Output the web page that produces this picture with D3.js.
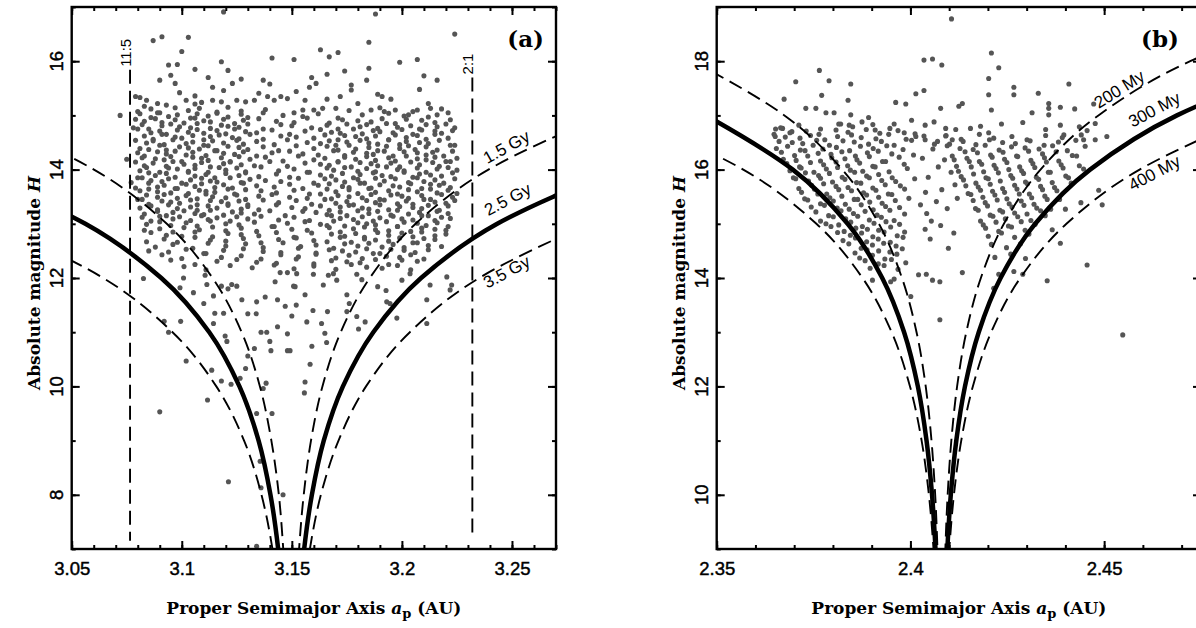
<!DOCTYPE html>
<html><head><meta charset="utf-8">
<script src="https://cdn.jsdelivr.net/npm/d3@7"></script>
<style>body{margin:0;background:#fff}svg{display:block}</style>
</head><body>
<svg id="chart" width="1196" height="628"></svg>
<script>
// ---------------- DATA ----------------
const xTicksA=[3.05,3.1,3.15,3.2,3.25], xTickLabelsA=["3.05","3.1","3.15","3.2","3.25"];
const yTicksA=[8,10,12,14,16];
const xTicksB=[2.35,2.4,2.45], xTickLabelsB=["2.35","2.4","2.45"];
const yTicksB=[10,12,14,16,18];

// Panel (a) asteroids [a_p, H]
const pointsA=[
[3.119,16.91],[3.188,16.87],[3.224,16.5],[3.087,16.38],[3.091,16.45],[3.103,16.44],[3.185,16.35],[3.100,16.18],[3.163,16.21],[3.167,16.08],[3.171,16.16],[3.141,16.06],[3.151,16.03],[3.118,15.99],[3.199,15.98],[3.207,16.03],[3.106,15.85],[3.094,15.93],[3.098,15.94],[3.095,15.74],[3.090,15.65],[3.097,15.59],[3.112,15.70],[3.121,15.83],[3.127,15.67],[3.123,15.59],[3.114,15.52],[3.119,15.46],[3.137,15.65],[3.140,15.58],[3.174,15.82],[3.185,15.87],[3.166,15.76],[3.159,15.70],[3.184,15.65],[3.210,15.73],[3.216,15.65],[3.152,15.44],[3.158,15.52],[3.161,15.59],[3.177,15.56],[3.177,15.47],[3.172,15.35],[3.191,15.35],[3.195,15.30],[3.189,15.39],[3.180,15.22],[3.208,15.48],[3.213,15.13],[3.216,15.01],[3.212,15.22],[3.166,15.30],[3.156,15.28],[3.160,15.10],[3.155,15.10],[3.170,15.13],[3.186,15.10],[3.192,15.07],[3.197,15.10],[3.203,15.01],[3.207,15.10],[3.099,15.42],[3.102,15.28],[3.106,15.36],[3.079,15.35],[3.081,15.33],[3.083,15.17],[3.072,15.00],[3.078,14.77],[3.075,14.19],[3.077,13.76],[3.114,15.28],[3.118,15.25],[3.125,15.28],[3.129,15.25],[3.133,15.28],[3.135,15.41],[3.139,15.35],[3.142,15.28],[3.145,15.35],[3.148,15.31],[3.084,15.28],[3.089,15.22],[3.093,15.19],[3.106,15.21],[3.109,15.24],
[3.080,15.07],[3.086,15.12],[3.090,15.05],[3.097,15.14],[3.103,15.09],[3.108,15.13],[3.116,15.06],[3.121,15.15],[3.127,15.08],[3.138,15.11],[3.151,15.05],[3.164,15.13],[3.176,15.09],[3.190,15.14],[3.205,15.07],[3.218,15.12],
[3.081,15.03],[3.086,14.96],[3.089,15.05],[3.094,14.98],[3.098,15.01],[3.104,14.95],[3.107,15.03],[3.112,14.99],[3.116,15.04],[3.121,14.97],[3.127,15.02],[3.130,14.96],[3.137,15.05],[3.146,15.0],[3.155,14.98],[3.162,15.03],[3.171,14.95],[3.182,15.01],[3.194,15.04],[3.201,14.99],[3.212,14.97],[3.221,15.05],
[3.079,14.93],[3.083,14.89],[3.088,14.94],[3.091,14.87],[3.097,14.92],[3.101,14.86],[3.106,14.95],[3.110,14.9],[3.113,14.88],[3.119,14.93],[3.124,14.85],[3.128,14.91],[3.135,14.94],[3.143,14.89],[3.151,14.87],[3.157,14.95],[3.167,14.86],[3.173,14.92],[3.180,14.9],[3.186,14.88],[3.191,14.94],[3.197,14.85],[3.202,14.93],[3.209,14.91],[3.215,14.87],[3.222,14.92],
[3.082,14.83],[3.085,14.75],[3.091,14.81],[3.095,14.84],[3.099,14.79],[3.104,14.77],[3.107,14.85],[3.113,14.76],[3.118,14.82],[3.121,14.8],[3.126,14.78],[3.130,14.84],[3.137,14.75],[3.145,14.83],[3.150,14.81],[3.159,14.77],[3.166,14.82],[3.171,14.75],[3.175,14.84],[3.181,14.79],[3.184,14.83],[3.189,14.76],[3.193,14.85],[3.198,14.78],[3.204,14.81],[3.208,14.75],[3.211,14.83],[3.216,14.79],[3.220,14.84],[3.224,14.77],
[3.080,14.75],[3.086,14.68],[3.090,14.71],[3.093,14.65],[3.098,14.73],[3.103,14.69],[3.107,14.74],[3.110,14.67],[3.116,14.72],[3.120,14.66],[3.124,14.75],[3.129,14.7],[3.134,14.68],[3.141,14.73],[3.149,14.65],[3.156,14.71],[3.163,14.74],[3.168,14.69],[3.172,14.67],[3.178,14.75],[3.182,14.66],[3.187,14.72],[3.190,14.7],[3.196,14.68],[3.200,14.74],[3.205,14.65],[3.209,14.73],[3.215,14.71],[3.218,14.67],[3.223,14.72],
[3.083,14.62],[3.087,14.56],[3.091,14.65],[3.097,14.6],[3.100,14.58],[3.105,14.63],[3.110,14.55],[3.113,14.61],[3.117,14.64],[3.123,14.59],[3.126,14.57],[3.131,14.65],[3.137,14.56],[3.145,14.62],[3.152,14.6],[3.160,14.58],[3.165,14.64],[3.171,14.55],[3.174,14.63],[3.179,14.61],[3.184,14.57],[3.188,14.62],[3.194,14.55],[3.197,14.64],[3.202,14.59],[3.207,14.63],[3.211,14.56],[3.215,14.65],[3.221,14.58],
[3.079,14.54],[3.084,14.49],[3.087,14.53],[3.092,14.46],[3.096,14.55],[3.102,14.48],[3.105,14.51],[3.110,14.45],[3.114,14.53],[3.119,14.49],[3.125,14.54],[3.128,14.47],[3.134,14.52],[3.142,14.46],[3.148,14.55],[3.157,14.5],[3.163,14.48],[3.167,14.53],[3.170,14.45],[3.175,14.51],[3.181,14.54],[3.185,14.49],[3.189,14.47],[3.194,14.55],[3.199,14.46],[3.202,14.52],[3.208,14.5],[3.212,14.48],[3.217,14.54],[3.224,14.45],
[3.081,14.39],[3.085,14.37],[3.090,14.45],[3.093,14.36],[3.099,14.42],[3.103,14.4],[3.108,14.38],[3.112,14.44],[3.115,14.35],[3.121,14.43],[3.126,14.41],[3.130,14.37],[3.137,14.42],[3.144,14.35],[3.152,14.44],[3.160,14.39],[3.166,14.43],[3.171,14.36],[3.176,14.45],[3.179,14.38],[3.185,14.41],[3.189,14.35],[3.193,14.43],[3.199,14.39],[3.203,14.44],[3.206,14.37],[3.211,14.42],[3.216,14.36],[3.222,14.45],
[3.080,14.31],[3.083,14.25],[3.089,14.33],[3.093,14.29],[3.097,14.34],[3.102,14.27],[3.105,14.32],[3.111,14.26],[3.116,14.35],[3.119,14.3],[3.124,14.28],[3.128,14.33],[3.134,14.25],[3.141,14.31],[3.149,14.34],[3.155,14.29],[3.162,14.27],[3.169,14.35],[3.174,14.26],[3.178,14.32],[3.184,14.3],[3.187,14.28],[3.192,14.34],[3.196,14.25],[3.201,14.33],[3.207,14.31],[3.211,14.27],[3.214,14.32],[3.219,14.25],[3.223,14.34],
[3.082,14.22],[3.088,14.2],[3.092,14.18],[3.095,14.24],[3.100,14.15],[3.105,14.23],[3.109,14.21],[3.112,14.17],[3.118,14.22],[3.122,14.15],[3.126,14.24],[3.131,14.19],[3.138,14.23],[3.146,14.16],[3.153,14.25],[3.160,14.18],[3.165,14.21],[3.171,14.15],[3.174,14.23],[3.179,14.19],[3.184,14.24],[3.188,14.17],[3.194,14.22],[3.197,14.16],[3.202,14.25],[3.207,14.2],[3.211,14.18],[3.215,14.23],[3.220,14.15],[3.225,14.21],
[3.079,14.14],[3.083,14.07],[3.087,14.12],[3.093,14.06],[3.096,14.15],[3.101,14.1],[3.106,14.08],[3.109,14.13],[3.113,14.05],[3.119,14.11],[3.122,14.14],[3.127,14.09],[3.133,14.07],[3.140,14.15],[3.148,14.06],[3.156,14.12],[3.163,14.1],[3.167,14.08],[3.171,14.14],[3.177,14.05],[3.181,14.13],[3.186,14.11],[3.189,14.07],[3.195,14.12],[3.199,14.05],[3.204,14.14],[3.208,14.09],[3.214,14.13],[3.217,14.06],[3.222,14.15],
[3.081,13.98],[3.084,14.04],[3.090,13.95],[3.094,14.03],[3.098,14.01],[3.103,13.97],[3.106,14.02],[3.112,13.95],[3.117,14.04],[3.120,13.99],[3.125,14.03],[3.129,13.96],[3.136,14.05],[3.144,13.98],[3.151,14.01],[3.158,13.95],[3.166,14.03],[3.169,13.99],[3.174,14.04],[3.180,13.97],[3.184,14.02],[3.188,13.96],[3.193,14.05],[3.198,14.0],[3.201,13.98],[3.207,14.03],[3.211,13.95],[3.216,14.01],[3.221,14.04],[3.225,13.99],
[3.080,13.85],[3.085,13.94],[3.088,13.89],[3.093,13.93],[3.097,13.86],[3.103,13.95],[3.106,13.88],[3.111,13.91],[3.115,13.85],[3.120,13.93],[3.126,13.89],[3.129,13.94],[3.135,13.87],[3.143,13.92],[3.149,13.86],[3.157,13.95],[3.163,13.9],[3.168,13.88],[3.173,13.93],[3.178,13.85],[3.181,13.91],[3.187,13.94],[3.191,13.89],[3.195,13.87],[3.201,13.95],[3.205,13.86],[3.208,13.92],[3.213,13.9],[3.218,13.88],[3.223,13.94],
[3.082,13.85],[3.086,13.8],[3.091,13.78],[3.094,13.83],[3.100,13.75],[3.104,13.81],[3.109,13.84],[3.113,13.79],[3.116,13.77],[3.122,13.85],[3.127,13.76],[3.131,13.82],[3.138,13.8],[3.145,13.78],[3.153,13.84],[3.160,13.75],[3.165,13.83],[3.170,13.81],[3.174,13.77],[3.180,13.82],[3.183,13.75],[3.188,13.84],[3.192,13.79],[3.197,13.83],[3.203,13.76],[3.207,13.85],[3.210,13.78],[3.215,13.81],[3.219,13.75],[3.224,13.83],
[3.079,13.66],[3.085,13.75],[3.089,13.68],[3.092,13.71],[3.097,13.65],[3.102,13.73],[3.106,13.69],[3.109,13.74],[3.115,13.67],[3.119,13.72],[3.123,13.66],[3.128,13.75],[3.134,13.7],[3.142,13.68],[3.149,13.73],[3.155,13.65],[3.162,13.71],[3.167,13.74],[3.173,13.69],[3.176,13.67],[3.181,13.75],[3.186,13.66],[3.190,13.72],[3.196,13.7],[3.199,13.68],[3.204,13.74],[3.209,13.65],[3.213,13.73],[3.217,13.71],[3.222,13.67],
[3.081,13.61],[3.085,13.64],[3.089,13.59],[3.095,13.57],[3.098,13.65],[3.103,13.56],[3.108,13.62],[3.111,13.6],[3.115,13.58],[3.121,13.64],[3.124,13.55],[3.129,13.63],[3.136,13.61],[3.143,13.57],[3.151,13.62],[3.158,13.55],[3.166,13.64],[3.170,13.59],[3.176,13.63],[3.180,13.56],[3.185,13.65],[3.188,13.58],[3.194,13.61],[3.198,13.55],[3.203,13.63],[3.207,13.59],[3.213,13.64],[3.216,13.57],[3.221,13.62],[3.225,13.56],
[3.080,13.45],[3.084,13.53],[3.089,13.49],[3.092,13.54],[3.098,13.47],[3.102,13.52],[3.107,13.46],[3.111,13.55],[3.114,13.5],[3.120,13.48],[3.125,13.53],[3.129,13.45],[3.135,13.51],[3.141,13.54],[3.149,13.49],[3.157,13.47],[3.163,13.55],[3.168,13.46],[3.171,13.52],[3.176,13.5],[3.182,13.48],[3.186,13.54],[3.190,13.45],[3.195,13.53],[3.200,13.51],[3.203,13.47],[3.209,13.52],[3.213,13.45],[3.218,13.54],[3.223,13.49],
[3.082,13.45],[3.085,13.36],[3.091,13.42],[3.095,13.4],[3.099,13.38],[3.104,13.44],[3.107,13.35],[3.113,13.43],[3.118,13.41],[3.121,13.37],[3.126,13.42],[3.130,13.35],[3.137,13.44],[3.144,13.39],[3.152,13.43],[3.159,13.36],[3.165,13.45],[3.170,13.38],[3.175,13.41],[3.178,13.35],[3.184,13.43],[3.188,13.39],[3.192,13.44],[3.198,13.37],[3.202,13.42],[3.205,13.36],[3.210,13.45],[3.215,13.4],[3.220,13.38],[3.224,13.43],
[3.081,13.29],[3.086,13.33],[3.089,13.26],[3.094,13.35],[3.098,13.28],[3.104,13.31],[3.107,13.25],[3.112,13.33],[3.116,13.29],[3.121,13.34],[3.127,13.27],[3.130,13.32],[3.135,13.26],[3.143,13.35],[3.150,13.3],[3.156,13.28],[3.163,13.33],[3.167,13.25],[3.172,13.31],[3.176,13.34],[3.182,13.29],[3.185,13.27],[3.190,13.35],[3.194,13.26],[3.199,13.32],[3.205,13.3],[3.209,13.28],[3.212,13.34],[3.217,13.25],[3.221,13.33],
[3.083,13.18],[3.089,13.23],[3.093,13.15],[3.096,13.21],[3.101,13.24],[3.106,13.19],[3.110,13.17],[3.113,13.25],[3.119,13.16],[3.123,13.22],[3.127,13.2],[3.133,13.18],[3.140,13.24],[3.147,13.15],[3.155,13.23],[3.161,13.21],[3.166,13.17],[3.172,13.22],[3.175,13.15],[3.180,13.24],[3.185,13.19],[3.189,13.23],[3.195,13.16],[3.198,13.25],[3.203,13.18],[3.208,13.21],[3.212,13.15],[3.216,13.23],[3.221,13.19],
[3.082,13.12],[3.086,13.05],[3.090,13.14],[3.096,13.09],[3.099,13.13],[3.104,13.06],[3.109,13.15],[3.112,13.08],[3.116,13.11],[3.122,13.05],[3.125,13.13],[3.130,13.09],[3.136,13.14],[3.144,13.07],[3.151,13.12],[3.158,13.06],[3.168,13.15],[3.172,13.1],[3.178,13.08],[3.182,13.13],[3.187,13.05],[3.190,13.11],[3.196,13.14],[3.200,13.09],[3.205,13.07],[3.209,13.15],[3.215,13.06],[3.218,13.12],[3.222,13.1],
[3.084,12.99],[3.090,13.04],[3.095,12.97],[3.102,13.02],[3.107,12.96],[3.113,13.05],[3.120,13.0],[3.126,12.98],[3.133,13.03],[3.141,12.95],[3.148,13.01],[3.156,13.04],[3.163,12.99],[3.166,12.97],[3.169,13.05],[3.174,12.96],[3.180,13.02],[3.184,13.0],[3.188,12.98],[3.193,13.04],[3.198,12.95],[3.201,13.03],[3.207,13.01],[3.211,12.97],[3.216,13.02],[3.221,12.95],
[3.083,12.88],[3.090,12.91],[3.096,12.85],[3.101,12.93],[3.108,12.89],[3.114,12.94],[3.120,12.87],[3.127,12.92],[3.134,12.86],[3.142,12.95],[3.150,12.9],[3.157,12.88],[3.167,12.93],[3.172,12.85],[3.178,12.91],[3.183,12.94],[3.188,12.89],[3.194,12.87],[3.198,12.95],[3.204,12.86],[3.209,12.92],[3.215,12.9],[3.220,12.88],
[3.086,12.84],[3.093,12.79],[3.100,12.77],[3.106,12.85],[3.114,12.76],[3.121,12.82],[3.127,12.8],[3.135,12.78],[3.143,12.84],[3.151,12.75],[3.159,12.83],[3.168,12.81],[3.174,12.77],[3.179,12.82],[3.183,12.75],[3.189,12.84],[3.194,12.79],[3.200,12.83],[3.205,12.76],[3.209,12.85],[3.215,12.78],[3.220,12.81],
[3.084,12.67],[3.092,12.72],[3.098,12.66],[3.106,12.75],[3.113,12.7],[3.120,12.68],[3.128,12.73],[3.136,12.65],[3.144,12.71],[3.152,12.74],[3.160,12.69],[3.166,12.67],[3.172,12.75],[3.177,12.66],[3.183,12.72],[3.188,12.7],[3.194,12.68],[3.199,12.74],[3.205,12.65],[3.210,12.73],[3.215,12.71],
[3.088,12.57],[3.096,12.62],[3.105,12.55],[3.112,12.64],[3.120,12.59],[3.129,12.63],[3.137,12.56],[3.146,12.65],[3.154,12.58],[3.161,12.61],[3.169,12.55],[3.174,12.63],[3.180,12.59],[3.185,12.64],[3.191,12.57],[3.196,12.62],[3.201,12.56],[3.207,12.65],[3.212,12.6],[3.218,12.58],
[3.085,12.5],[3.094,12.48],[3.102,12.53],[3.111,12.45],[3.119,12.51],[3.128,12.54],[3.137,12.49],[3.145,12.47],[3.153,12.55],[3.161,12.46],[3.167,12.52],[3.173,12.5],[3.179,12.48],[3.184,12.54],[3.190,12.45],[3.195,12.53],[3.201,12.51],[3.206,12.47],[3.212,12.52],
[3.091,12.43],[3.100,12.36],[3.110,12.45],[3.118,12.38],[3.127,12.41],[3.136,12.35],[3.145,12.43],[3.153,12.39],[3.161,12.44],[3.170,12.37],[3.176,12.42],[3.182,12.36],[3.187,12.45],[3.193,12.4],[3.199,12.38],[3.204,12.43],[3.210,12.35],
[3.095,12.33],[3.106,12.25],[3.116,12.31],[3.125,12.34],[3.134,12.29],[3.143,12.27],[3.152,12.35],[3.160,12.26],[3.168,12.32],[3.175,12.3],[3.181,12.28],[3.188,12.34],[3.194,12.25],[3.200,12.33],[3.207,12.31],
[3.101,12.21],[3.111,12.15],[3.122,12.23],[3.132,12.19],[3.142,12.24],[3.151,12.17],[3.160,12.22],[3.170,12.16],[3.177,12.25],[3.184,12.2],[3.191,12.18],[3.198,12.23],[3.204,12.15],
[3.0826,11.99],[3.092,11.2],[3.094,11.0],[3.0995,11.2],[3.102,10.47],[3.090,9.53],[3.1117,9.75],[3.1136,10.3],[3.118,10.1],[3.1224,10.04],[3.1265,10.15],[3.129,10.33],[3.130,10.56],[3.133,10.7],[3.1212,8.24],[3.1356,8.62],[3.136,8.13],[3.146,8.0],[3.134,9.5],[3.141,9.5],[3.137,9.96],[3.1383,10.06],[3.134,7.05],[3.1197,10.93],[3.1205,10.83],[3.1144,11.16],[3.115,11.35],[3.119,11.35],[3.1273,11.6],[3.130,11.34],[3.1338,11.34],[3.136,11.0],[3.1386,11.0],[3.140,10.83],[3.1405,10.66],[3.1435,11.1],[3.148,10.97],[3.148,10.66],[3.1435,11.6],[3.15,11.3],[3.147,11.48],[3.152,11.5],[3.1379,11.65],[3.134,11.56],[3.1053,11.73],[3.11,11.53],[3.1114,11.88],[3.1144,11.67],[3.118,11.85],[3.121,11.8],[3.1227,11.88],[3.125,11.85],[3.1008,12.0],[3.0992,11.82],[3.1106,12.05],[3.1447,12.1],[3.1424,11.93],[3.148,12.1],[3.1508,11.85],
[3.1515,11.84],[3.156,11.69],[3.1598,12.07],[3.1666,12.05],[3.1704,11.96],[3.1795,12.07],[3.189,11.84],[3.175,11.69],[3.1761,11.53],[3.1643,11.87],[3.1596,11.4],[3.1662,11.38],[3.1568,11.19],[3.1635,11.16],[3.165,10.98],[3.1658,10.81],[3.175,11.38],[3.1795,11.29],[3.1803,11.06],[3.1833,11.19],[3.1931,11.56],[3.1977,11.26],[3.2113,11.6],[3.2113,11.16],[3.2,11.96],[3.2037,12.08],[3.2128,11.87],[3.2204,12.02],[3.2226,11.87],[3.2219,11.78],[3.1946,11.53],[3.1591,10.74],[3.1583,10.41],[3.156,10.08],[3.1557,9.88],[3.1492,10.66],[3.1928,11.77],[3.1522,12.08],[3.1818,11.97],[3.1689,12.08]
];

// Panel (b) asteroids [a_p, H]
const pointsB=[
[2.4106,18.78],[2.4209,18.15],[2.4035,18.02],[2.4057,18.04],[2.4081,17.93],[2.4228,17.88],[2.3765,17.83],[2.4202,17.68],[2.3704,17.62],[2.379,17.64],[2.3846,17.58],[2.4409,17.58],[2.4267,17.52],[2.4035,17.46],[2.4014,17.4],[2.433,17.41],[2.3771,17.37],[2.4267,17.38],[2.4202,17.38],[2.3674,17.3],[2.3839,17.28],[2.3962,17.24],[2.3988,17.21],[2.4134,17.22],[2.4125,17.17],[2.4078,17.13],[2.4209,17.10],[2.4357,17.22],[2.4357,17.13],[2.4357,17.01],[2.4387,17.15],[2.4424,17.12],[2.4473,17.21],[2.4314,17.05],[2.373,17.13],[2.3756,17.13],[2.3782,17.05],[2.3803,17.05],[2.3846,17.01],[2.3892,16.96],[2.3875,16.88],[2.382,16.84],[2.3842,16.82],[2.3909,16.73],[2.3958,16.84],[2.3984,16.68],[2.4003,16.91],[2.4038,16.82],[2.4061,16.88],[2.407,16.52],[2.4091,16.76],[2.4014,16.61],[2.4038,16.55],[2.3651,16.61],[2.367,16.76],[2.3694,16.70],[2.429,16.87],[2.4235,16.84],[2.4181,16.80],[2.4202,16.68],[2.4155,16.76],[2.4117,16.74],[2.4091,16.62],[2.4108,16.55],[2.4349,16.74],[2.4387,16.82],[2.4396,16.64],[2.4436,16.79],[2.4456,16.72],[2.4477,16.85],[2.4507,16.61],[2.4477,16.55],[2.4447,16.55],
[2.4456,14.24],[2.4495,15.35],[2.4486,15.62],[2.44,15.27],[2.444,15.39],[2.4366,14.89],[2.4387,14.64],[2.3902,13.96],[2.3949,13.93],[2.3958,13.98],[2.4001,13.66],[2.4021,14.06],[2.4041,14.07],[2.4057,13.96],[2.4076,13.93],[2.4076,13.23],[2.4134,14.1],[2.4215,13.81],[2.4228,14.07],[2.4267,14.12],[2.429,14.07],[2.4353,13.95],[2.4548,12.95],
[2.3665,16.77],[2.3712,16.82],[2.3768,16.75],[2.3815,16.84],[2.3851,16.79],[2.3903,16.83],[2.3947,16.76],
[2.3652,16.75],[2.3689,16.68],[2.3731,16.71],[2.3764,16.65],[2.3808,16.73],[2.3839,16.69],[2.3886,16.74],[2.3921,16.67],[2.3968,16.72],[2.4012,16.66],
[2.3648,16.65],[2.3677,16.6],[2.3715,16.58],[2.3742,16.63],[2.3779,16.55],[2.3812,16.61],[2.3848,16.64],[2.3873,16.59],[2.3911,16.57],[2.3944,16.65],[2.3989,16.56],
[2.3661,16.52],[2.3695,16.5],[2.3722,16.48],[2.3758,16.54],[2.3791,16.45],[2.3826,16.53],[2.3855,16.51],[2.3892,16.47],[2.3925,16.52],[2.3958,16.45],[2.4003,16.54],
[2.3654,16.39],[2.3683,16.43],[2.3716,16.36],[2.3749,16.45],[2.3774,16.38],[2.3809,16.41],[2.3843,16.35],[2.3871,16.43],[2.3904,16.39],[2.3939,16.44],[2.3981,16.37],
[2.3667,16.32],[2.3701,16.26],[2.3728,16.35],[2.3762,16.3],[2.3795,16.28],[2.3823,16.33],[2.3858,16.25],[2.3889,16.31],[2.3917,16.34],[2.3952,16.29],[2.4008,16.27],
[2.3672,16.19],[2.3705,16.17],[2.3735,16.25],[2.3768,16.16],[2.3797,16.22],[2.3831,16.2],[2.3862,16.18],[2.3894,16.24],[2.3928,16.15],[2.3971,16.23],
[2.3681,16.11],[2.3714,16.05],[2.3742,16.13],[2.3776,16.09],[2.3808,16.14],[2.3838,16.07],[2.3869,16.12],[2.3903,16.06],[2.3936,16.15],[2.3984,16.1],
[2.3689,15.98],[2.3718,16.03],[2.3751,15.95],[2.3783,16.01],[2.3812,16.04],[2.3845,15.99],[2.3877,15.97],[2.3909,16.05],[2.3945,15.96],[2.3992,16.02],
[2.3698,15.85],[2.3729,15.94],[2.3763,15.89],[2.3791,15.93],[2.3824,15.86],[2.3856,15.95],[2.3887,15.88],[2.3918,15.91],[2.3953,15.85],
[2.3704,15.83],[2.3737,15.79],[2.3768,15.84],[2.3799,15.77],[2.3831,15.82],[2.3861,15.76],[2.3894,15.85],[2.3926,15.8],[2.3962,15.78],[2.4011,15.83],
[2.3712,15.65],[2.3745,15.71],[2.3776,15.74],[2.3808,15.69],[2.3839,15.67],[2.3872,15.75],[2.3903,15.66],[2.3935,15.72],[2.3974,15.7],
[2.3719,15.58],[2.3752,15.64],[2.3784,15.55],[2.3815,15.63],[2.3848,15.61],[2.3879,15.57],[2.3911,15.62],[2.3943,15.55],[2.3985,15.64],
[2.3727,15.46],[2.3761,15.55],[2.3792,15.48],[2.3823,15.51],[2.3855,15.45],[2.3887,15.53],[2.3918,15.49],[2.3952,15.54],[2.3996,15.47],
[2.3735,15.44],[2.3768,15.37],[2.3801,15.42],[2.3832,15.36],[2.3864,15.45],[2.3895,15.4],[2.3927,15.38],[2.3961,15.43],
[2.3744,15.31],[2.3778,15.34],[2.3811,15.29],[2.3842,15.27],[2.3873,15.35],[2.3904,15.26],[2.3936,15.32],[2.3972,15.3],
[2.3756,15.22],[2.3789,15.15],[2.3821,15.24],[2.3853,15.19],[2.3883,15.23],[2.3914,15.16],[2.3947,15.25],[2.3985,15.18],
[2.3768,15.05],[2.3801,15.13],[2.3833,15.09],[2.3864,15.14],[2.3894,15.07],[2.3925,15.12],[2.3958,15.06],
[2.3782,15.0],[2.3815,14.98],[2.3846,15.03],[2.3876,14.95],[2.3906,15.01],[2.3937,15.04],[2.3972,14.99],
[2.3795,14.95],[2.3829,14.86],[2.3859,14.92],[2.3889,14.9],[2.3918,14.88],[2.3949,14.94],[2.3985,14.85],
[2.3812,14.84],[2.3845,14.79],[2.3874,14.83],[2.3903,14.76],[2.3932,14.85],[2.3966,14.78],
[2.3826,14.69],[2.3858,14.74],[2.3887,14.67],[2.3917,14.72],[2.3948,14.66],[2.3981,14.75],
[2.3841,14.63],[2.3873,14.55],[2.3902,14.61],[2.3931,14.64],[2.3963,14.59],
[2.3857,14.46],[2.3888,14.52],[2.3918,14.5],[2.3947,14.48],[2.3979,14.54],
[2.3869,14.37],[2.3902,14.42],[2.3934,14.35],[2.3965,14.44],
[2.3883,14.32],[2.3917,14.26],[2.3951,14.34],[2.3988,14.28],
[2.3896,14.18],[2.3932,14.23],[2.3968,14.16],
[2.4092,16.63],[2.4131,16.56],[2.4178,16.65],[2.4215,16.58],[2.4262,16.61],[2.4301,16.55],[2.4349,16.63],[2.4392,16.59],[2.4441,16.64],
[2.4101,16.47],[2.4136,16.52],[2.4169,16.46],[2.4204,16.55],[2.4238,16.5],[2.4271,16.48],[2.4309,16.53],[2.4345,16.45],[2.4382,16.51],[2.4427,16.54],
[2.4095,16.44],[2.4128,16.39],[2.4162,16.37],[2.4193,16.45],[2.4229,16.36],[2.4261,16.42],[2.4296,16.4],[2.4332,16.38],[2.4367,16.44],[2.4405,16.35],[2.4451,16.43],
[2.4108,16.25],[2.4141,16.33],[2.4173,16.31],[2.4207,16.27],[2.4239,16.32],[2.4274,16.25],[2.4305,16.34],[2.4341,16.29],[2.4376,16.33],[2.4418,16.26],
[2.4113,16.18],[2.4146,16.21],[2.4178,16.15],[2.4211,16.23],[2.4243,16.19],[2.4277,16.24],[2.4311,16.17],[2.4346,16.22],[2.4383,16.16],[2.4429,16.25],
[2.4119,16.06],[2.4152,16.15],[2.4184,16.1],[2.4216,16.08],[2.4249,16.13],[2.4282,16.05],[2.4316,16.11],[2.4351,16.14],[2.4389,16.09],[2.4436,16.07],
[2.4124,15.97],[2.4157,16.05],[2.4189,15.96],[2.4221,16.02],[2.4254,16.0],[2.4287,15.98],[2.4321,16.04],[2.4356,15.95],[2.4394,16.03],[2.4447,16.01],
[2.4131,15.87],[2.4163,15.92],[2.4195,15.85],[2.4227,15.94],[2.4259,15.89],[2.4292,15.93],[2.4325,15.86],[2.4361,15.95],[2.4401,15.88],
[2.4137,15.81],[2.4169,15.75],[2.4201,15.83],[2.4232,15.79],[2.4264,15.84],[2.4297,15.77],[2.4331,15.82],[2.4366,15.76],[2.4408,15.85],
[2.4143,15.7],[2.4175,15.68],[2.4206,15.73],[2.4238,15.65],[2.4269,15.71],[2.4302,15.74],[2.4336,15.69],[2.4372,15.67],[2.4415,15.75],
[2.4149,15.56],[2.4181,15.62],[2.4212,15.6],[2.4243,15.58],[2.4275,15.64],[2.4307,15.55],[2.4341,15.63],[2.4378,15.61],
[2.4156,15.54],[2.4187,15.49],[2.4218,15.53],[2.4249,15.46],[2.4281,15.55],[2.4313,15.48],[2.4347,15.51],[2.4385,15.45],
[2.4162,15.43],[2.4193,15.39],[2.4224,15.44],[2.4255,15.37],[2.4286,15.42],[2.4319,15.36],[2.4353,15.45],
[2.4168,15.28],[2.4199,15.33],[2.4231,15.25],[2.4262,15.31],[2.4293,15.34],[2.4326,15.29],[2.4362,15.27],
[2.4175,15.25],[2.4206,15.16],[2.4238,15.22],[2.4269,15.2],[2.4301,15.18],[2.4336,15.24],
[2.4181,15.05],[2.4213,15.14],[2.4245,15.09],[2.4277,15.13],[2.4311,15.06],[2.4348,15.15],
[2.4188,14.98],[2.4221,15.03],[2.4253,14.96],[2.4286,15.04],[2.4322,14.99],
[2.4194,14.92],[2.4228,14.86],[2.4261,14.94],[2.4296,14.88],
[2.4201,14.77],[2.4235,14.83],[2.4269,14.75],[2.4306,14.81],
[2.4209,14.62],[2.4248,14.56],[2.4284,14.63],
[2.4218,14.38],[2.4259,14.44],[2.4297,14.36],
[2.4035,16.62],[2.4058,16.38],[2.4031,16.21],[2.4072,16.05],[2.4046,15.86],[2.4081,15.63],[2.4039,15.58],[2.4067,15.41],[2.4095,15.28],[2.4042,15.19],[2.4078,14.97],[2.4112,14.83],[2.4051,14.72],[2.4098,14.55],[2.4038,14.9],[2.4121,15.47],[2.4115,15.72],[2.4062,16.47],[2.4088,16.18],[2.4105,15.95],[2.4054,15.05],[2.4026,15.35]
];

// Model curves, points [a_p, H] along each branch (top -> bottom)
const curveA_15_left=[[3.0077,15],[3.0601,14],[3.0932,13],[3.114,12],[3.1272,11],[3.1355,10],[3.1407,9],[3.1441,8],[3.1461,7],[3.1475,6],[3.1483,5]];
const curveA_15_right=[[3.2917,15],[3.2393,14],[3.2062,13],[3.1854,12],[3.1722,11],[3.1639,10],[3.1587,9],[3.1554,8],[3.1533,7],[3.152,6],[3.1511,5]];
const curveA_25_left=[[3.0014,14],[3.0562,13],[3.0907,12],[3.1125,11],[3.1262,10],[3.1349,9],[3.1403,8],[3.1438,7],[3.146,6],[3.1474,5]];
const curveA_25_right=[[3.298,14],[3.2433,13],[3.2087,12],[3.187,11],[3.1732,10],[3.1645,9],[3.1591,8],[3.1556,7],[3.1534,6],[3.152,5]];
const curveA_35_left=[[3.0143,13],[3.0643,12],[3.0958,11],[3.1157,10],[3.1283,9],[3.1362,8],[3.1412,7],[3.1443,6],[3.1463,5]];
const curveA_35_right=[[3.2851,13],[3.2351,12],[3.2036,11],[3.1837,10],[3.1712,9],[3.1632,8],[3.1582,7],[3.1551,6],[3.1531,5]];
const resonance_11_5=[[3.0765,15.84],[3.0765,7.15]];
const resonance_2_1=[[3.232,15.7],[3.232,7.2]];

const curveB_200_left=[[2.34378,18],[2.36748,17],[2.38243,16],[2.39187,15],[2.39782,14],[2.40158,13],[2.40395,12],[2.40544,11],[2.40639,10],[2.40698,9],[2.40736,8],[2.4076,7]];
const curveB_200_right=[[2.5098,19],[2.47222,18],[2.44852,17],[2.43357,16],[2.42413,15],[2.41818,14],[2.41442,13],[2.41205,12],[2.41056,11],[2.40961,10],[2.40902,9],[2.40864,8],[2.40841,7]];
const curveB_300_left=[[2.32,18],[2.34721,17],[2.36964,16],[2.3838,15],[2.39273,14],[2.39837,13],[2.40192,12],[2.40416,11],[2.40558,10],[2.40647,9],[2.40704,8],[2.40739,7]];
const curveB_300_right=[[2.50434,18],[2.46879,17],[2.44636,16],[2.4322,15],[2.42327,14],[2.41763,13],[2.41408,12],[2.41184,11],[2.41042,10],[2.40953,9],[2.40896,8],[2.40861,7]];
const curveB_400_left=[[2.32694,17],[2.35685,16],[2.37573,15],[2.38764,14],[2.39515,13],[2.39989,12],[2.40289,11],[2.40477,10],[2.40596,9],[2.40672,8],[2.40719,7]];
const curveB_400_right=[[2.48906,17],[2.45915,16],[2.44027,15],[2.42836,14],[2.42085,13],[2.41611,12],[2.41312,11],[2.41123,10],[2.41004,9],[2.40929,8],[2.40881,7]];

// ---------------- DRAWING ----------------
const svg=d3.select('#chart');
const PW=484.3, TOP=7, BOTTOM=549;
const SANS="'Liberation Sans',Arial,Helvetica,sans-serif";
const SERIF="'DejaVu Serif',serif";

function drawPanel(o){
  const x=d3.scaleLinear().domain(o.xDomain).range([o.left,o.left+PW]);
  const y=d3.scaleLinear().domain(o.yDomain).range([BOTTOM,TOP]);
  const g=svg.append('g');
  const cid='clip-'+o.key;
  g.append('clipPath').attr('id',cid).append('rect')
    .attr('x',o.left).attr('y',TOP).attr('width',PW).attr('height',BOTTOM-TOP);
  const inner=g.append('g').attr('clip-path',`url(#${cid})`);
  inner.append('g').selectAll('circle').data(o.points).join('circle')
    .attr('cx',d=>x(d[0])).attr('cy',d=>y(d[1])).attr('r',2.55).attr('fill','#555');
  const line=d3.line().x(d=>x(d[0])).y(d=>y(d[1])).curve(d3.curveMonotoneY);
  const straight=d3.line().x(d=>x(d[0])).y(d=>y(d[1]));
  o.dashed.forEach(br=>inner.append('path').attr('d',line(br)).attr('fill','none')
    .attr('stroke','#000').attr('stroke-width',1.9).attr('stroke-dasharray','14,7'));
  o.solid.forEach(br=>inner.append('path').attr('d',line(br)).attr('fill','none')
    .attr('stroke','#000').attr('stroke-width',4.5));
  (o.vlines||[]).forEach(v=>{
    inner.append('path').attr('d',straight(v.pts)).attr('fill','none')
      .attr('stroke','#000').attr('stroke-width',1.9).attr('stroke-dasharray','14,7');
    g.append('text').attr('transform',`translate(${x(v.pts[0][0])+0.5},${y(v.pts[0][1])-3}) rotate(-90)`)
      .attr('font-family',SANS).attr('font-size',15).text(v.label);
  });
  o.labels.forEach(l=>{
    g.append('text').attr('transform',`translate(${x(l.a)},${y(l.h)}) rotate(${l.rot})`)
      .attr('font-family',SANS).attr('font-size',17).text(l.text);
  });
  const xMinor=x.ticks(o.xMinorCount), yMinor=y.ticks(10);
  const ax=(gen,tx,ty,vals,size,fmt,pad)=>{
    const a=g.append('g').attr('transform',`translate(${tx},${ty})`)
      .call(gen.tickValues(vals).tickSize(size).tickPadding(pad||3).tickFormat(fmt||(()=>'')));
    a.select('.domain').remove();
    a.selectAll('line').attr('stroke','#000').attr('stroke-width',2);
    return a;
  };
  ax(d3.axisBottom(x),0,BOTTOM,xMinor,-4);
  ax(d3.axisTop(x),0,TOP,xMinor,-4);
  ax(d3.axisTop(x),0,TOP,o.xTicks,-8);
  const xb=ax(d3.axisBottom(x),0,BOTTOM,o.xTicks,-8,(d,i)=>o.xLabels[i],13);
  xb.selectAll('text').attr('font-family',SANS).attr('font-size',18.5).attr('fill','#000')
    .attr('stroke','#000').attr('stroke-width',0.45);
  ax(d3.axisLeft(y),o.left,0,yMinor,-4);
  ax(d3.axisLeft(y),o.left,0,o.yTicks,-8);
  ax(d3.axisRight(y),o.left+PW,0,yMinor,-4);
  ax(d3.axisRight(y),o.left+PW,0,o.yTicks,-8);
  g.selectAll('.ylab').data(o.yTicks).join('text')
    .attr('transform',d=>`translate(${o.left-9},${y(d)}) rotate(-90)`)
    .attr('text-anchor','middle').attr('font-family',SANS).attr('font-size',18.5)
    .attr('stroke','#000').attr('stroke-width',0.45).text(d=>d);
  g.append('rect').attr('x',o.left).attr('y',TOP).attr('width',PW).attr('height',BOTTOM-TOP)
    .attr('fill','none').attr('stroke','#000').attr('stroke-width',2.4);
  g.append('text').attr('x',x(o.tag.a)).attr('y',y(o.tag.h)).attr('text-anchor','middle')
    .attr('font-family',SERIF).attr('font-weight','bold').attr('font-size',23).text(o.tag.text);
  const xt=g.append('text').attr('x',o.left+PW/2).attr('y',614).attr('text-anchor','middle')
    .attr('font-family',SERIF).attr('font-weight','bold').attr('font-size',17);
  xt.append('tspan').text('Proper Semimajor Axis ');
  xt.append('tspan').attr('font-style','italic').text('a');
  xt.append('tspan').attr('dy',4).attr('font-size',13).text('p');
  xt.append('tspan').attr('dy',-4).text(' (AU)');
  const yt=g.append('text').attr('transform',`translate(${o.left-32},${(TOP+BOTTOM)/2+5}) rotate(-90)`)
    .attr('text-anchor','middle').attr('font-family',SERIF).attr('font-weight','bold').attr('font-size',17);
  yt.append('tspan').text('Absolute magnitude ');
  yt.append('tspan').attr('font-style','italic').text('H');
}

drawPanel({key:'a',left:71.7,xDomain:[3.05,3.27],yDomain:[7,17],xMinorCount:22,
  xTicks:xTicksA,xLabels:xTickLabelsA,yTicks:yTicksA,points:pointsA,
  dashed:[curveA_15_left,curveA_15_right,curveA_35_left,curveA_35_right],
  solid:[curveA_25_left,curveA_25_right],
  vlines:[{pts:resonance_11_5,label:'11:5'},{pts:resonance_2_1,label:'2:1'}],
  labels:[{text:'1.5 Gy',a:3.2388,h:14.10,rot:-29},{text:'2.5 Gy',a:3.2392,h:13.14,rot:-28},{text:'3.5 Gy',a:3.2388,h:11.80,rot:-28}],
  tag:{text:'(a)',a:3.2562,h:16.26}});

drawPanel({key:'b',left:716.7,xDomain:[2.35,2.475],yDomain:[9,19],xMinorCount:12,
  xTicks:xTicksB,xLabels:xTickLabelsB,yTicks:yTicksB,points:pointsB,
  dashed:[curveB_200_left,curveB_200_right,curveB_400_left,curveB_400_right],
  solid:[curveB_300_left,curveB_300_right],
  labels:[{text:'200 My',a:2.4486,h:17.12,rot:-32},{text:'300 My',a:2.4573,h:16.77,rot:-28},{text:'400 My',a:2.4573,h:15.60,rot:-28}],
  tag:{text:'(b)',a:2.4644,h:18.26}});
</script>
</body></html>
